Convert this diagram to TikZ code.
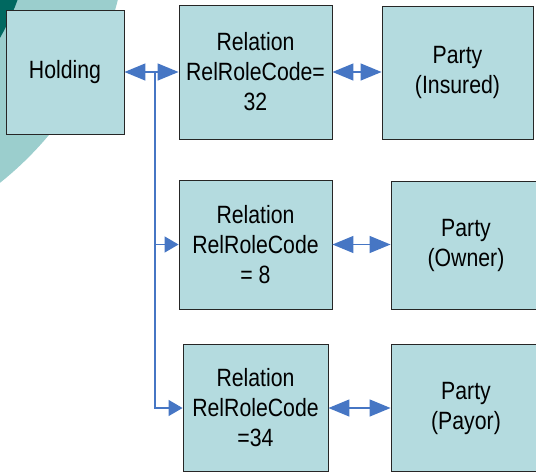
\documentclass[tikz,border=0pt]{standalone}
\usepackage{fontspec}
\setmainfont[FakeStretch=0.85]{Liberation Sans}
\usetikzlibrary{arrows.meta}
\definecolor{boxfill}{RGB}{180,219,223}
\definecolor{arrowblue}{RGB}{70,118,196}
\definecolor{tealLight}{RGB}{155,206,205}
\definecolor{tealDark}{RGB}{0,104,96}
\begin{document}
\begin{tikzpicture}[x=1pt,y=-1pt,
  card/.style={draw=black!85, line width=0.9pt, fill=boxfill, inner sep=0pt,
    align=center, font=\fontsize{25}{30}\selectfont},
  link/.style={draw=arrowblue, line width=1.4pt},
  bigtip/.style={{Triangle[length=21pt,width=17pt,fill=arrowblue]}-{Triangle[length=21pt,width=17pt,fill=arrowblue]}},
  smalltip/.style={-{Triangle[length=14pt,width=16pt,fill=arrowblue]}}]
\useasboundingbox (0,0) rectangle (536,474);
% teal backdrop in the upper left corner
\begin{scope}
  \clip (0,0) rectangle (536,474);
  \fill[tealLight] (-212,-83) circle (340pt);
  \fill[tealDark] (-212,-83) circle (244pt);
\end{scope}
% boxes
\node[card, minimum width=118pt, minimum height=124pt] (hold) at (65,72) {Holding};
\node[card, minimum width=153pt, minimum height=134pt] (rel1) at (255.5,72) {Relation\\RelRoleCode=\\32};
\node[card, minimum width=151pt, minimum height=133pt] (party1) at (457.5,72.5) {Party\\(Insured)};
\node[card, minimum width=153pt, minimum height=129pt] (rel2) at (255.5,244.5) {Relation\\RelRoleCode\\= 8};
\node[card, minimum width=150pt, minimum height=128pt] (party2) at (466,245) {Party\\(Owner)};
\node[card, minimum width=145pt, minimum height=127pt] (rel3) at (255.5,408) {Relation\\RelRoleCode\\=34};
\node[card, minimum width=150pt, minimum height=127pt] (party3) at (466,408) {Party\\(Payor)};
% connectors
\coordinate (j) at (155,72);
\draw[link, bigtip] (hold.east) -- (rel1.west);
\draw[link, bigtip] (rel1.east) -- (party1.west |- rel1.east);
\draw[link, bigtip] (rel2.east) -- (party2.west |- rel2.east);
\draw[link, bigtip] (rel3.east) -- (party3.west |- rel3.east);
\draw[link, smalltip] (j) |- (rel2.west);
\draw[link, smalltip] (j) |- (rel3.west);
\end{tikzpicture}
\end{document}
